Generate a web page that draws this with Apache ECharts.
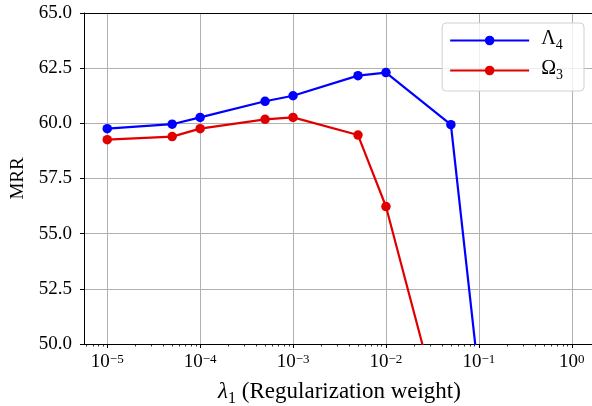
<!DOCTYPE html>
<html>
<head>
<meta charset="utf-8">
<script src="https://cdn.jsdelivr.net/npm/echarts@6/dist/echarts.min.js"></script>
<style>
html,body{margin:0;padding:0;background:#fff;}
#c{width:592px;height:406px;}
</style>
</head>
<body>
<div id="c"></div>
<script>
// ---- data ----
const lambdaValues = [1e-5, 5e-5, 1e-4, 5e-4, 1e-3, 5e-3, 1e-2, 5e-2, 1e-1];
const lambda4MRR   = [59.76, 59.96, 60.27, 61.0, 61.25, 62.16, 62.30, 59.94, 48.5];
const omega3MRR    = [59.26, 59.40, 59.76, 60.18, 60.27, 59.47, 56.23, 45.1];
const xMajorTicks  = [1e-5, 1e-4, 1e-3, 1e-2, 1e-1, 1e0];
const xMinorTicks  = [];
[-6,-5,-4,-3,-2,-1,0].forEach(function(e){ for (let m = 2; m <= 9; m++) xMinorTicks.push(m * Math.pow(10, e)); });
const yMin = 50, yMax = 65, yStep = 2.5;
const seriesNames = ['\u039b4', '\u03a93'];

const FONT = 'Liberation Serif';
const pairs = (xs, ys) => ys.map((y, i) => [xs[i], y]);
const xMin = Math.pow(10, -5.25), xMax = Math.pow(10, 0.25);

function expLabel(v) {
  const e = Math.round(Math.log10(v));
  return '{b|10}{s|' + (e < 0 ? '\u2212' + (-e) : String(e)) + '}';
}

const chart = echarts.init(document.getElementById('c'), null, {renderer: 'canvas'});
chart.setOption({
  animation: false,
  textStyle: {fontFamily: FONT, color: '#000'},
  grid: {left: 84, top: 13, right: -3, bottom: 62, show: false,
         outerBoundsMode: 'none', containLabel: false},
  xAxis: [{
    type: 'log', logBase: 10, min: xMin, max: xMax,
    name: '{i|\u03bb}{sub|1}{n| (Regularization weight)}',
    nameLocation: 'middle', nameGap: 36,
    nameTextStyle: {
      fontFamily: FONT,
      rich: {
        i: {fontFamily: FONT, fontStyle: 'italic', fontSize: 23, color: '#000', padding: [0,0,4,0]},
        sub: {fontFamily: FONT, fontSize: 16, color: '#000', verticalAlign: 'bottom'},
        n: {fontFamily: FONT, fontSize: 23, color: '#000', padding: [0,0,4,0]}
      }
    },
    axisLine: {show: true, lineStyle: {color: '#000', width: 1}},
    axisTick: {show: true, length: 4, lineStyle: {color: '#000'}, customValues: xMajorTicks},
    axisLabel: {
      customValues: xMajorTicks, margin: 9, formatter: expLabel, fontFamily: FONT,
      rich: {
        b: {fontFamily: FONT, fontSize: 19, color: '#000'},
        s: {fontFamily: FONT, fontSize: 13, color: '#000', verticalAlign: 'top'}
      }
    },
    splitLine: {show: true, lineStyle: {color: '#b0b0b0', width: 1}},
    minorTick: {show: false}
  }, {
    type: 'log', logBase: 10, min: xMin, max: xMax, position: 'bottom',
    axisLine: {show: false},
    axisTick: {show: true, length: 2.5, lineStyle: {color: '#000', width: 0.8}, customValues: xMinorTicks},
    axisLabel: {show: false},
    splitLine: {show: false}
  }, {
    type: 'log', logBase: 10, min: xMin, max: xMax, position: 'top',
    axisLine: {show: true, lineStyle: {color: '#000', width: 1}},
    axisTick: {show: false},
    axisLabel: {show: false},
    splitLine: {show: false}
  }],
  yAxis: {
    type: 'value', min: yMin, max: yMax, interval: yStep,
    name: 'MRR', nameLocation: 'middle', nameGap: 55,
    nameTextStyle: {fontFamily: FONT, fontSize: 19, color: '#000'},
    axisLine: {show: true, lineStyle: {color: '#000', width: 1}},
    axisTick: {show: true, length: 4, lineStyle: {color: '#000'}},
    axisLabel: {
      margin: 12, formatter: v => '{v|' + v.toFixed(1) + '}', fontFamily: FONT,
      rich: {v: {fontFamily: FONT, fontSize: 19, color: '#000'}}
    },
    splitLine: {show: true, showMinLine: false, showMaxLine: false, lineStyle: {color: '#b0b0b0', width: 1}}
  },
  legend: {
    orient: 'vertical', right: 8, top: 23,
    padding: [6, 21, 9, 7], itemGap: 7, itemWidth: 79, itemHeight: 12,
    backgroundColor: 'rgba(255,255,255,0.8)', borderColor: '#d0d0d0', borderWidth: 1, borderRadius: 4,
    data: seriesNames,
    formatter: function(name){ return '{m|' + name.charAt(0) + '}{u|' + name.slice(1) + '}'; },
    textStyle: {
      padding: [0,0,0,7],
      rich: {
        m: {fontFamily: FONT, fontSize: 20, color: '#000', padding: [0,0,3,0]},
        u: {fontFamily: FONT, fontSize: 14, color: '#000', verticalAlign: 'bottom'}
      }
    }
  },
  series: [{
    name: seriesNames[0], type: 'line', xAxisIndex: 0, data: pairs(lambdaValues, lambda4MRR),
    symbol: 'circle', symbolSize: 9.5, clip: true,
    lineStyle: {color: '#0000ff', width: 2.2}, itemStyle: {color: '#0000ff'}
  }, {
    name: seriesNames[1], type: 'line', xAxisIndex: 0, data: pairs(lambdaValues, omega3MRR),
    symbol: 'circle', symbolSize: 9.5, clip: true,
    lineStyle: {color: '#e00000', width: 2.2}, itemStyle: {color: '#e00000'}
  }]
});
</script>
</body>
</html>
